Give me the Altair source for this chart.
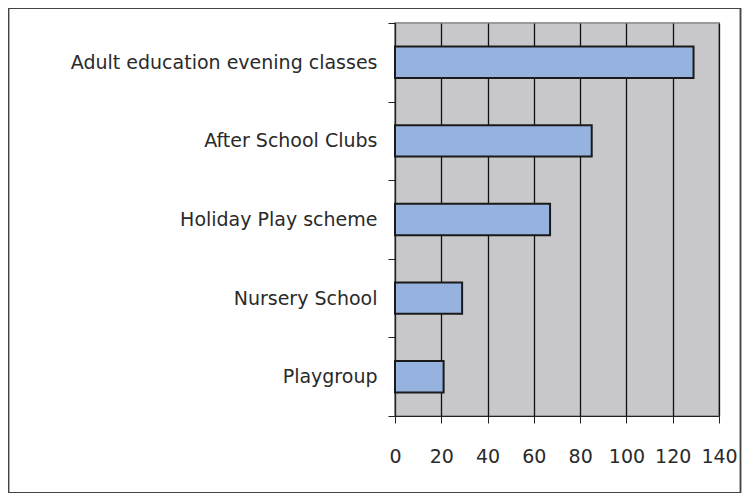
import altair as alt
import pandas as pd

categories = [
    "Adult education evening classes",
    "After School Clubs",
    "Holiday Play scheme",
    "Nursery School",
    "Playgroup",
]
values = [129, 85, 67, 29, 21]
x_ticks = [0, 20, 40, 60, 80, 100, 120, 140]

df = pd.DataFrame({"activity": categories, "count": values})

FONT = "DejaVu Sans"

bars = alt.Chart(df).mark_bar(
    color="#95B3DE", stroke="#1a1a1a", strokeWidth=2, height={"band": 0.4}
).encode(
    x=alt.X(
        "count:Q",
        scale=alt.Scale(domain=[0, 140], nice=False, zero=True),
        axis=alt.Axis(
            values=x_ticks, title=None, grid=True, gridColor="#111111",
            gridWidth=1.3, gridOpacity=1, domainColor="#222222", domainWidth=1,
            tickColor="#222222", tickSize=7, labelPadding=24,
            labelOverlap=False, labelFlush=False,
            labelFont=FONT, labelFontSize=19, labelColor="#2a2a2a",
        ),
    ),
    y=alt.Y(
        "activity:N", sort=categories,
        scale=alt.Scale(paddingInner=0, paddingOuter=0),
        axis=alt.Axis(
            title=None, tickBand="extent", grid=False, domainColor="#222222",
            tickColor="#222222", tickSize=7, labelPadding=11, labelLimit=500,
            labelFont=FONT, labelFontSize=19, labelColor="#2a2a2a",
        ),
    ),
)

frame = alt.Chart(df).mark_rect(
    fill=None, stroke="#444444", strokeWidth=1.2, clip=False
).encode(
    x=alt.value(-386.5), x2=alt.value(345.5),
    y=alt.value(-14.5), y2=alt.value(469.5),
)

chart = alt.layer(frame, bars).properties(
    width=324, height=393,
    autosize=alt.AutoSizeParams(type="none"),
    padding={"left": 387, "top": 15, "right": 23, "bottom": 77},
    background="white",
).configure_view(
    fill="#C8C8CA", stroke="#9a9a9a", strokeWidth=2
)

chart.save("out.html", embed_options={"renderer": "svg", "actions": False})
